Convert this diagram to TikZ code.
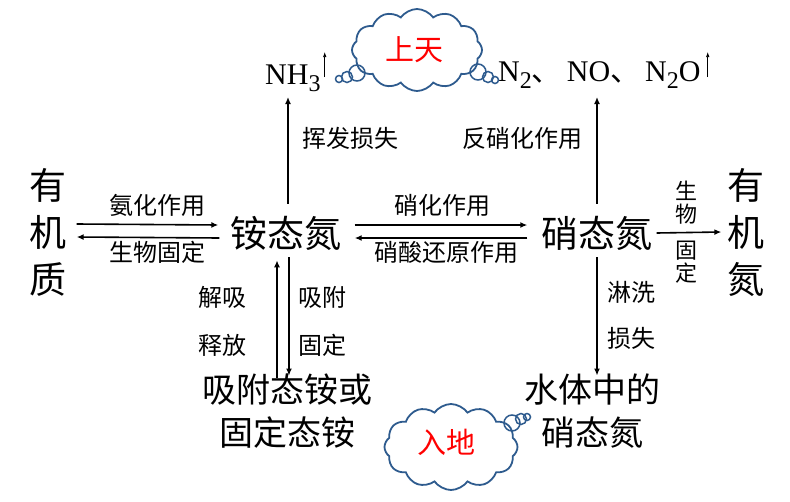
\documentclass[tikz,border=0pt]{standalone}
\usepackage{fontspec}
\setmainfont{Liberation Serif}
\newfontfamily\cjk{Noto Sans CJK SC}
\usetikzlibrary{arrows.meta,shapes.symbols}
\definecolor{cloudblue}{HTML}{2E5B8E}
\begin{document}
\begin{tikzpicture}[x=1pt,y=-1pt,
 big/.style={font=\cjk\fontsize{37}{47}\selectfont, inner sep=0, align=center},
 mid/.style={font=\cjk\fontsize{34}{43}\selectfont, inner sep=0, align=center},
 lab/.style={font=\cjk\fontsize{24}{26}\selectfont, inner sep=0},
 vlab/.style={font=\cjk\fontsize{22}{23}\selectfont, inner sep=0, align=center},
 chem/.style={font=\fontsize{30}{32}\selectfont, inner sep=0},
 arr/.style={line width=1.6pt, -{Latex[length=7pt,width=6pt]}},
 garr/.style={line width=0.7pt, -{Latex[length=5pt,width=3.5pt]}},
 cl/.style={cloud, cloud puffs=12, cloud puff arc=110, draw=cloudblue, line width=1.8pt, fill=white, inner sep=0, aspect=1.6},
 bub/.style={draw=cloudblue, line width=1.5pt},
 ctext/.style={font=\cjk\fontsize{29}{30}\selectfont, text=red}]
\useasboundingbox (0,0) rectangle (790,501);
% main nodes
\node[big] (org) at (48,232) {有\\机\\质};
\node[big] (amm) at (286,233) {铵态氮};
\node[big] (nit) at (597,233) {硝态氮};
\node[big] (orgN) at (746,232) {有\\机\\氮};
\node[mid] (ads) at (287,411) {吸附态铵或\\固定态铵};
\node[mid] (water) at (592,411) {水体中的\\硝态氮};
\newcommand{\mysub}[1]{\raisebox{-7pt}{\fontsize{24}{24}\selectfont #1}}
\node[chem, anchor=base west] (nh3) at (265,84) {NH\mysub{3}};
\node[chem, anchor=base west] (gas) at (498,81) {N\mysub{2}{\cjk 、}\,NO{\cjk 、}\,N\mysub{2}O};
% clouds
\node[cl, minimum width=130, minimum height=82] (sky) at (417,50) {};
\node[ctext] (skyt) at (414,50) {上天};
\draw[bub] (339,79) circle (3.5);
\draw[bub] (347,77) circle (5.5);
\draw[bub] (357,73) circle (8);
\draw[bub] (478,72) circle (8);
\draw[bub] (488,77) circle (5.5);
\draw[bub] (495,80) circle (3.5);
\node[cl, minimum width=133, minimum height=86] (gnd) at (451,447) {};
\node[ctext] (gndt) at (446,442) {入地};
\draw[bub] (512,423) circle (8);
\draw[bub] (521,419) circle (5.5);
\draw[bub] (527,417) circle (3.5);
% gas arrows
\coordinate (g1) at ([xshift=4,yshift=7]nh3.base east);
\coordinate (g2) at ([xshift=7,yshift=4]gas.base east);
\draw[garr] (g1) -- ++(0,-25);
\draw[garr] (g2) -- ++(0,-25);
% horizontal arrows
\draw[arr] ([xshift=10,yshift=8]org.east) -- ([xshift=-12,yshift=8]amm.west);
\draw[arr] ([xshift=-11,yshift=-5]amm.west) -- ([xshift=10,yshift=-5]org.east);
\node[lab] (l1) at (157,205) {氨化作用};
\node[lab] (l2) at (157,252) {生物固定};
\draw[arr] ([xshift=13,yshift=8]amm.east) -- ([xshift=-14,yshift=8]nit.west);
\draw[arr] ([xshift=-14,yshift=-5]nit.west) -- ([xshift=13,yshift=-5]amm.east);
\node[lab] (l3) at (442,205) {硝化作用};
\node[lab] (l4) at (446,252) {硝酸还原作用};
\draw[arr] ([xshift=4]nit.east) -- ([xshift=-6]orgN.west);
\node[vlab] (l5) at (686,203) {生\\物};
\node[vlab] (l6) at (686,262) {固\\定};
% vertical arrows up
\draw[arr] ([xshift=2,yshift=12]amm.north) -- ([xshift=2,yshift=-13]amm.north |- nh3.base);
\node[lab] (l7) at (350,138) {挥发损失};
\draw[arr] ([yshift=12]nit.north) -- ([yshift=-16]nit.north |- gas.base);
\node[lab] (l8) at (522,138) {反硝化作用};
% vertical arrows down
\draw[arr] ([xshift=-10,yshift=-4]ads.north) -- ([xshift=-10,yshift=-10]ads.north |- amm.south);
\draw[arr] ([xshift=2,yshift=-7]ads.north |- amm.south) -- ([xshift=2,yshift=-2]ads.north);
\node[lab] (l9) at (222,297) {解吸};
\node[lab] (l10) at (222,345) {释放};
\node[lab] (l11) at (322,297) {吸附};
\node[lab] (l12) at (322,345) {固定};
\draw[arr] ([yshift=-7]nit.south) -- ([yshift=-2]nit.south |- water.north);
\node[lab] (l13) at (631,292) {淋洗};
\node[lab] (l14) at (631,338) {损失};
\end{tikzpicture}
\end{document}
